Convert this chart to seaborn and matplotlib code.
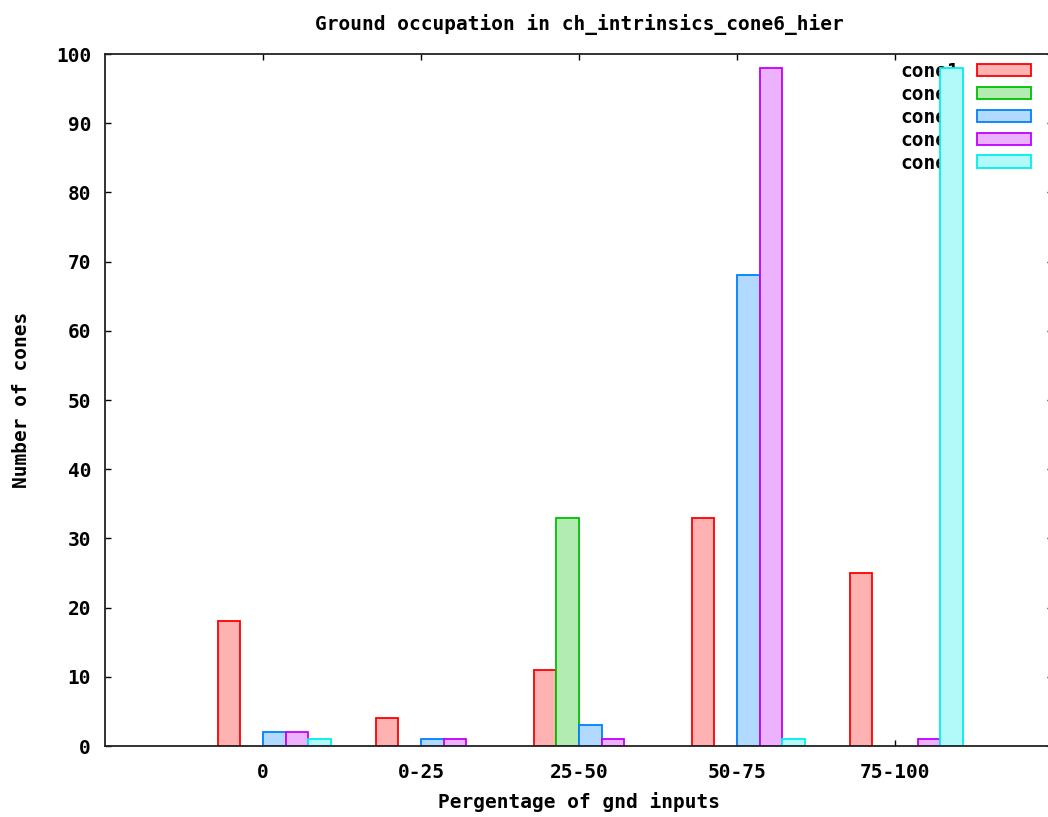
import numpy as np
import pandas as pd
import matplotlib
matplotlib.use("Agg")
import matplotlib.pyplot as plt
from matplotlib.patches import Patch
import seaborn as sns

# ---- data ----
categories = ["0", "0-25", "25-50", "50-75", "75-100"]
series_names = ["cone1", "cone2", "cone3", "cone4", "cone5"]
cone1 = [18, 4, 11, 33, 25]
cone2 = [0, 0, 33, 0, 0]
cone3 = [2, 1, 3, 68, 0]
cone4 = [2, 1, 1, 98, 1]
cone5 = [1, 0, 0, 1, 98]
yticks = list(range(0, 101, 10))

title = "Ground occupation in ch_intrinsics_cone6_hier"
xlabel = "Pergentage of gnd inputs"
ylabel = "Number of cones"

edge_colors = ["#ff0000", "#00c000", "#0080ff", "#c000ff", "#00eeee"]
fill_colors = ["#ffb2b2", "#b2ecb2", "#b2d9ff", "#ecb2ff", "#b2fafa"]

values = [cone1, cone2, cone3, cone4, cone5]
rows = []
for name, vals in zip(series_names, values):
    for cat, v in zip(categories, vals):
        rows.append({"range": cat, "count": v, "series": name})
df = pd.DataFrame(rows)

sns.set_theme(style="white")
plt.rcParams["font.family"] = ["DejaVu Sans Mono", "DejaVu Sans"]
plt.rcParams["font.weight"] = "bold"
plt.rcParams["text.color"] = "black"
plt.rcParams["axes.labelcolor"] = "black"
plt.rcParams["axes.titlecolor"] = "black"
FS = 14

fig = plt.figure(figsize=(10.48, 8.17), dpi=100)
W, H = 1048, 817
ax = fig.add_axes([105 / W, (H - 746) / H, 948 / W, 692 / H])

sns.barplot(data=df, x="range", y="count", hue="series", order=categories,
            hue_order=series_names, palette=fill_colors, width=5 / 7,
            dodge=True, saturation=1, linewidth=1.3, legend=False, ax=ax,
            errorbar=None)

for cont, ec in zip(ax.containers, edge_colors):
    for p in cont.patches:
        p.set_edgecolor(ec)
        p.set_linewidth(1.3)
        if p.get_height() == 0:
            p.set_visible(False)

tick_pos = np.arange(len(categories)) - 1 / 14
ax.set_xticks(tick_pos)
ax.set_xticklabels(categories, fontsize=FS, fontweight="bold", color="black")
ax.set_xlim(tick_pos[0] - 1, tick_pos[0] + 5)
ax.set_ylim(0, 100)
ax.set_yticks(yticks)
ax.set_yticklabels([str(t) for t in yticks], fontsize=FS, fontweight="bold",
                   color="black")

ax.tick_params(axis="both", direction="in", length=4.5, width=1.0,
               colors="black", top=True, right=True, bottom=True, left=True)
ax.tick_params(axis="y", pad=10)
ax.tick_params(axis="x", pad=12)

for s in ["left", "bottom", "top", "right"]:
    ax.spines[s].set_color("#222222")
    ax.spines[s].set_linewidth(1.3)
ax.spines["right"].set_visible(False)

ax.set_title(title, fontsize=FS, fontweight="bold", pad=17, color="black")
ax.set_xlabel(xlabel, fontsize=FS, fontweight="bold", color="black")
ax.set_ylabel(ylabel, fontsize=FS, fontweight="bold", color="black")
ax.xaxis.set_label_coords(0.5, (746 - 802) / 692)
ax.xaxis.label.set_verticalalignment("center")
ax.yaxis.set_label_coords((22 - 105) / 948, 0.5)
ax.yaxis.label.set_verticalalignment("center")

handles = [Patch(facecolor=fc, edgecolor=ec, linewidth=1.3)
           for fc, ec in zip(fill_colors, edge_colors)]
leg = ax.legend(handles=handles, labels=series_names, loc="upper right",
                bbox_to_anchor=(1031 / W, 1 - 62 / H),
                bbox_transform=fig.transFigure, frameon=False,
                markerfirst=False, prop={"size": FS, "weight": "bold"},
                handlelength=2.8, handleheight=0.62, handletextpad=0.9,
                labelspacing=0.2, borderpad=0, borderaxespad=0)
for t in leg.get_texts():
    t.set_color("black")
leg.set_zorder(0.5)

fig.savefig("out.png", dpi=100)
